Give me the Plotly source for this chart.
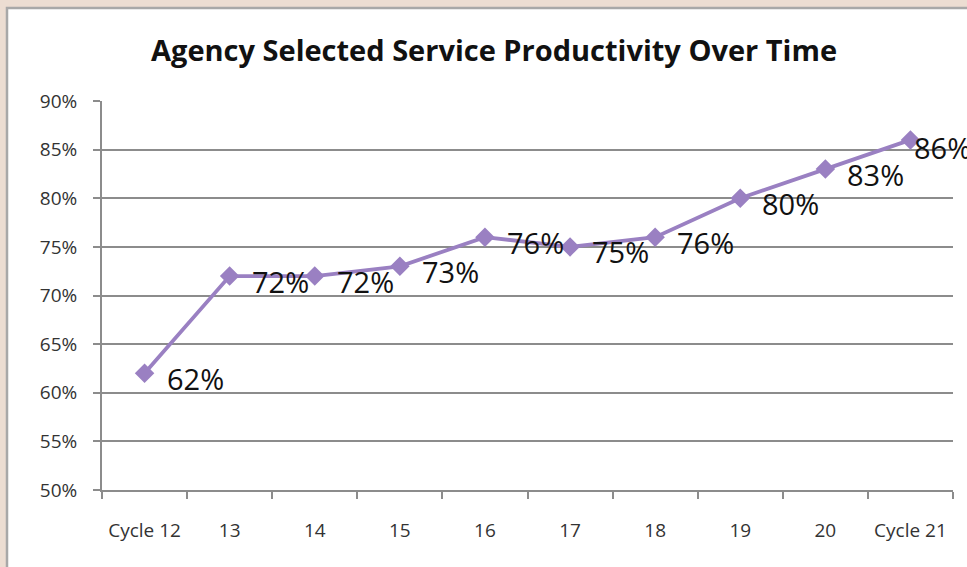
import plotly.graph_objects as go

categories = ["Cycle 12", "13", "14", "15", "16", "17", "18", "19", "20", "Cycle 21"]
values = [0.62, 0.72, 0.72, 0.73, 0.76, 0.75, 0.76, 0.80, 0.83, 0.86]
labels = ["62%", "72%", "72%", "73%", "76%", "75%", "76%", "80%", "83%", "86%"]

W, H = 967, 567
L, R, T, B = 102, 14, 101, 77
pw, ph = W - L - R, H - T - B

def px_x(p):
    return (p - L) / pw

def px_y(p):
    return (H - B - p) / ph

FONT = "Open Sans, Liberation Sans, sans-serif"
PURPLE = "#9a80c2"

fig = go.Figure()
fig.add_trace(go.Scatter(
    x=list(range(len(categories))), y=values, mode="lines+markers",
    line=dict(color=PURPLE, width=3.8),
    marker=dict(symbol="diamond", size=15, color=PURPLE),
    hoverinfo="skip", showlegend=False, cliponaxis=False,
))

annotations = []
n = len(categories)
for i, (v, t) in enumerate(zip(values, labels)):
    last = i == n - 1
    annotations.append(dict(
        x=i, y=v, xref="x", yref="y", text=t, showarrow=False,
        xanchor="left", yanchor="middle",
        xshift=2 if last else 20, yshift=-8 if last else -5,
        font=dict(family=FONT, size=29, color="#111111"),
    ))

annotations.append(dict(
    x=px_x(494), y=px_y(50), xref="paper", yref="paper",
    text="<b>Agency Selected Service Productivity Over Time</b>", showarrow=False,
    xanchor="center", yanchor="middle",
    font=dict(family=FONT, size=29, color="#111111"),
))

shapes = [
    dict(type="rect", xref="paper", yref="paper", layer="below",
         x0=px_x(7), x1=px_x(W + 10), y0=px_y(H + 10), y1=px_y(8),
         fillcolor="white", line=dict(color="#a8a8a8", width=2.5)),
]

fig.update_layout(
    width=W, height=H,
    margin=dict(l=L, r=R, t=T, b=B),
    paper_bgcolor="#ecddd2",
    plot_bgcolor="rgba(0,0,0,0)",
    shapes=shapes,
    annotations=annotations,
    font=dict(family=FONT, size=19, color="#333333"),
    xaxis=dict(
        tickmode="array", tickvals=list(range(n)), ticktext=categories,
        ticks="", showline=True, linecolor="#8c8c8c", linewidth=1.8,
        showgrid=False, zeroline=False,
        tickfont=dict(family=FONT, size=19, color="#333333"),
        range=[-0.5, n - 0.5], ticklabelstandoff=22,
        minor=dict(tickmode="array", tickvals=[i - 0.5 for i in range(n + 1)],
                   ticks="outside", ticklen=7, tickcolor="#8c8c8c", tickwidth=1.8,
                   showgrid=False),
    ),
    yaxis=dict(
        range=[0.5, 0.9], dtick=0.05, tick0=0.5, tickformat=".0%",
        ticks="outside", ticklen=7, tickcolor="#8c8c8c", tickwidth=1.8,
        showline=True, linecolor="#8c8c8c", linewidth=1.8,
        showgrid=True, gridcolor="#8c8c8c", gridwidth=1.8,
        zeroline=False, ticklabelstandoff=12,
        tickfont=dict(family=FONT, size=19, color="#333333"),
    ),
)

fig.write_html("out.html", config={"displayModeBar": False},
               post_script="document.body.style.margin='0';document.body.style.background='#ecddd2';")
